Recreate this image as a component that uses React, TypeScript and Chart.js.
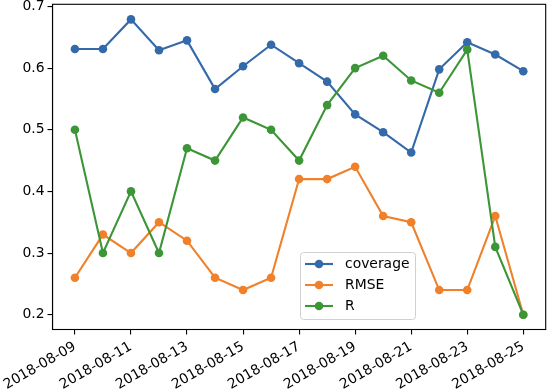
import React, { useEffect, useRef } from "react";
import { Chart, registerables } from "chart.js";

Chart.register(...registerables);

const dates = [
  "2018-08-09", "2018-08-10", "2018-08-11", "2018-08-12", "2018-08-13", "2018-08-14",
  "2018-08-15", "2018-08-16", "2018-08-17", "2018-08-18", "2018-08-19", "2018-08-20",
  "2018-08-21", "2018-08-22", "2018-08-23", "2018-08-24", "2018-08-25",
];
const coverage = [0.631, 0.631, 0.679, 0.629, 0.645, 0.566, 0.603, 0.638, 0.608, 0.578, 0.525, 0.496, 0.463, 0.598, 0.642, 0.622, 0.595];
const rmse = [0.26, 0.33, 0.30, 0.35, 0.32, 0.26, 0.24, 0.26, 0.42, 0.42, 0.44, 0.36, 0.35, 0.24, 0.24, 0.36, 0.20];
const rValues = [0.50, 0.30, 0.40, 0.30, 0.47, 0.45, 0.52, 0.50, 0.45, 0.54, 0.60, 0.62, 0.58, 0.56, 0.63, 0.31, 0.20];
const yTicks = [0.2, 0.3, 0.4, 0.5, 0.6, 0.7];
const xTickStep = 2;

const seriesNames = ["coverage", "RMSE", "R"];
const colors = ["#3469aa", "#f0812a", "#3c9637"];
const FONT = "DejaVu Sans";
const FS = 13.9;

const legendPlugin = {
  id: "mplFrameLegend",
  afterDraw(chart: any) {
    const ctx = chart.ctx;
    const a = chart.chartArea;
    ctx.save();
    ctx.strokeStyle = "#000";
    ctx.lineWidth = 1.1;
    ctx.strokeRect(a.left, a.top, a.right - a.left, a.bottom - a.top);
    const bx = 300.5, by = 252.5, bw = 115, bh = 67, rad = 3;
    ctx.beginPath();
    ctx.moveTo(bx + rad, by);
    ctx.lineTo(bx + bw - rad, by);
    ctx.arcTo(bx + bw, by, bx + bw, by + rad, rad);
    ctx.lineTo(bx + bw, by + bh - rad);
    ctx.arcTo(bx + bw, by + bh, bx + bw - rad, by + bh, rad);
    ctx.lineTo(bx + rad, by + bh);
    ctx.arcTo(bx, by + bh, bx, by + bh - rad, rad);
    ctx.lineTo(bx, by + rad);
    ctx.arcTo(bx, by, bx + rad, by, rad);
    ctx.closePath();
    ctx.fillStyle = "rgba(255,255,255,0.8)";
    ctx.fill();
    ctx.strokeStyle = "#d0d0d0";
    ctx.lineWidth = 1;
    ctx.stroke();
    const rows = [264, 285, 306];
    seriesNames.forEach((name, i) => {
      const y = rows[i];
      ctx.strokeStyle = colors[i];
      ctx.lineWidth = 2.1;
      ctx.beginPath();
      ctx.moveTo(305, y);
      ctx.lineTo(333, y);
      ctx.stroke();
      ctx.fillStyle = colors[i];
      ctx.beginPath();
      ctx.arc(319, y, 4.3, 0, Math.PI * 2);
      ctx.fill();
      ctx.fillStyle = "#000";
      ctx.font = `${FS}px "${FONT}"`;
      ctx.textBaseline = "middle";
      ctx.textAlign = "left";
      ctx.fillText(name, 345, y + 0.5);
    });
    ctx.restore();
  },
};

export default function App() {
  const ref = useRef<HTMLCanvasElement>(null);
  useEffect(() => {
    document.body.style.margin = "0";
    const series = [coverage, rmse, rValues];
    const chart = new Chart(ref.current!, {
      type: "line",
      data: {
        datasets: series.map((vals, i) => ({
          label: seriesNames[i],
          data: vals.map((v, j) => ({ x: j, y: v })),
          borderColor: colors[i],
          backgroundColor: colors[i],
          borderWidth: 2.1,
          pointRadius: 4.3,
          pointBorderWidth: 0,
          pointHoverRadius: 4.3,
          tension: 0,
          order: 2 - i,
        })),
      },
      options: {
        animation: false,
        responsive: false,
        devicePixelRatio: 1,
        layout: { padding: { top: 3.5, right: 1.5, left: 0, bottom: 0 } },
        plugins: { legend: { display: false }, tooltip: { enabled: false } },
        scales: {
          x: {
            type: "linear",
            min: -0.8,
            max: dates.length - 1 + 0.8,
            afterBuildTicks: (s: any) => {
              const t = [];
              for (let i = 0; i < dates.length; i += xTickStep) t.push({ value: i });
              s.ticks = t;
            },
            afterFit: (s: any) => {
              s.height = 59.5;
              s.paddingLeft = 0;
              s.paddingRight = 0;
            },
            ticks: {
              autoSkip: false,
              minRotation: 30,
              maxRotation: 30,
              color: "#000",
              padding: 4,
              font: { family: FONT, size: FS },
              callback: (v: any) => dates[v] ?? "",
            },
            grid: { drawOnChartArea: false, drawTicks: true, tickLength: 5, color: "#000", lineWidth: 1.1 },
            border: { display: true, color: "#000", width: 1.1 },
          },
          y: {
            type: "linear",
            min: 0.176,
            max: 0.7035,
            afterBuildTicks: (s: any) => { s.ticks = yTicks.map((v) => ({ value: v })); },
            afterFit: (s: any) => {
              s.width = 52.5;
              s.paddingTop = 0;
              s.paddingBottom = 0;
            },
            ticks: {
              color: "#000",
              padding: 3,
              font: { family: FONT, size: FS },
              callback: (v: any) => Number(v).toFixed(1),
            },
            grid: { drawOnChartArea: false, drawTicks: true, tickLength: 5, color: "#000", lineWidth: 1.1 },
            border: { display: true, color: "#000", width: 1.1 },
          },
        },
      },
      plugins: [legendPlugin],
    });
    return () => chart.destroy();
  }, []);
  return <canvas ref={ref} width={550} height={389} style={{ display: "block", width: 550, height: 389 }} />;
}
